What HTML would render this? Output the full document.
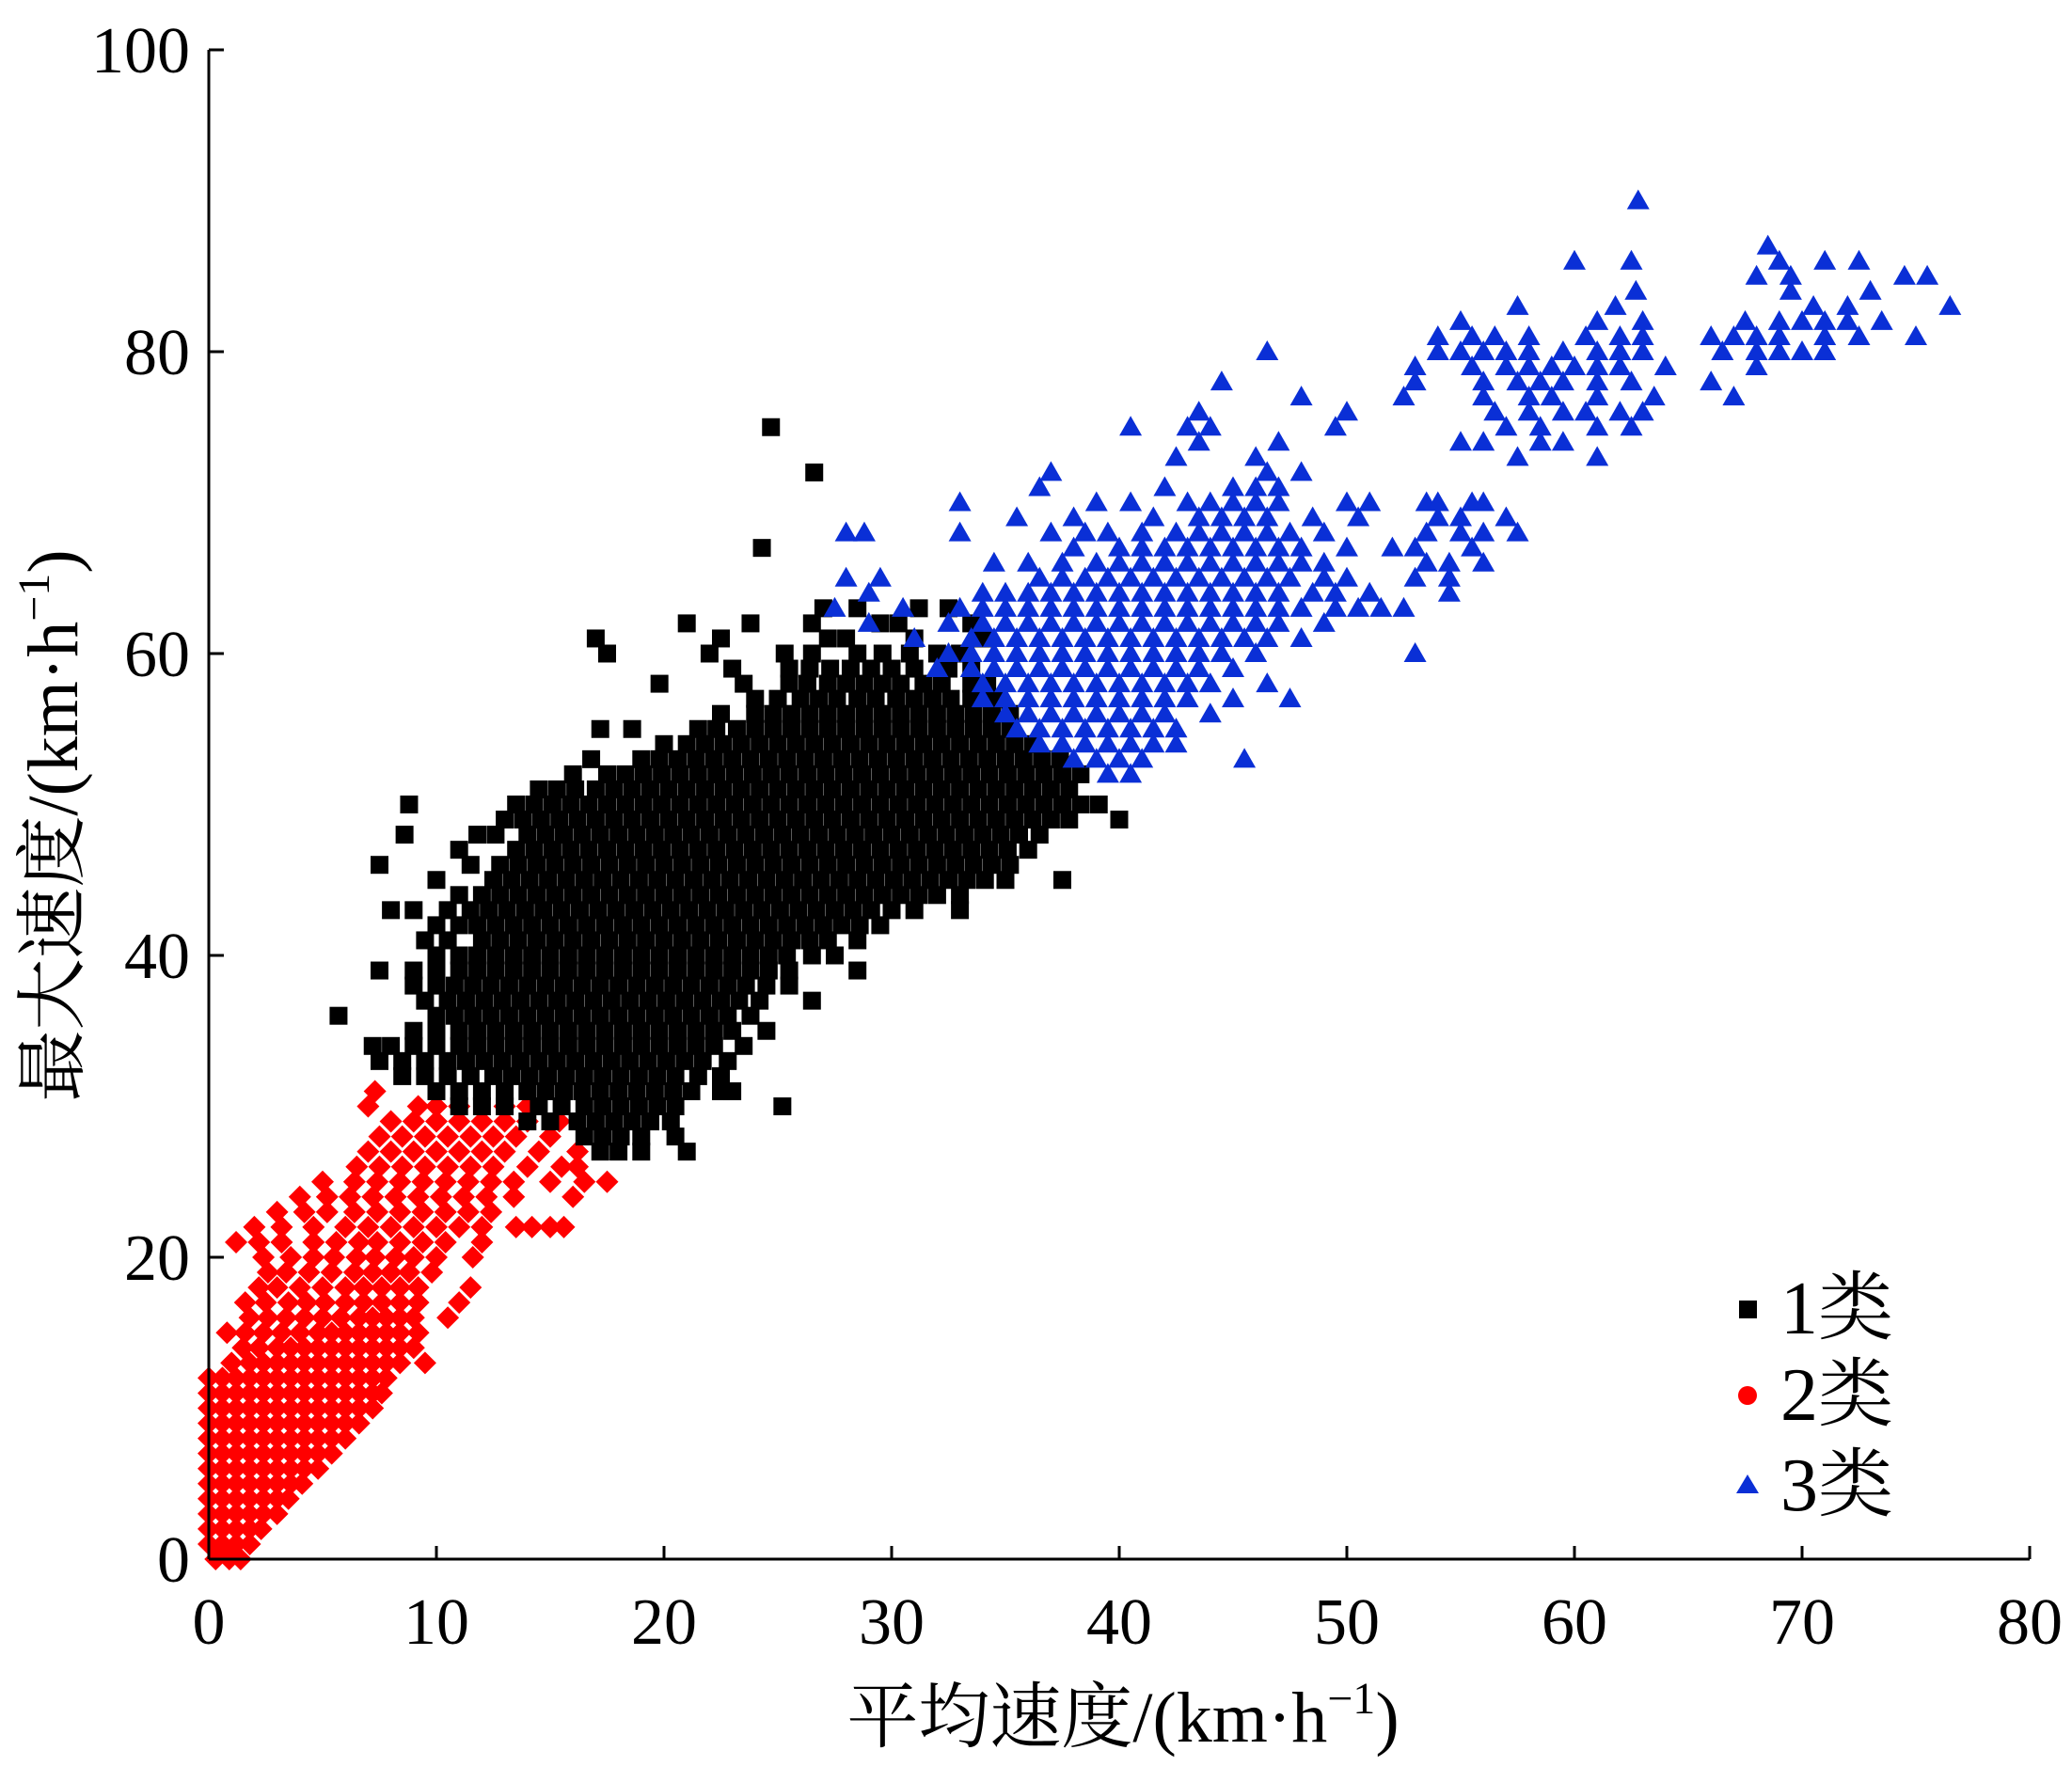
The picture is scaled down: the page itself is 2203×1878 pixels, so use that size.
<!DOCTYPE html>
<html><head><meta charset="utf-8"><style>
html,body{margin:0;padding:0;background:#fff;}
svg{display:block;font-family:"Liberation Serif","Noto Serif CJK SC",serif;}
</style></head><body>
<svg id="chart" width="2203" height="1878" viewBox="0 0 2203 1878" xmlns="http://www.w3.org/2000/svg">
<g id="marks"></g>
<g id="axes"></g>
<text x="1194" y="1852" font-size="76" text-anchor="middle">平均速度/(km·h<tspan font-size="48" dy="-30">−1</tspan><tspan dy="30">)</tspan></text>
<text transform="translate(82,878) rotate(-90)" font-size="76" text-anchor="middle">最大速度/(km·h<tspan font-size="48" dy="-30">−1</tspan><tspan dy="30">)</tspan></text>
<g>
<g><rect x="1849" y="1383" width="19" height="19" fill="#000"/><text x="1893" y="1418" font-size="80">1类</text></g>
<g><circle cx="1858" cy="1484" r="10" fill="#f00"/><text x="1893" y="1510" font-size="80">2类</text></g>
<g><polygon points="1858,1568 1870,1588 1846,1588" fill="#0a2fd6"/><text x="1893" y="1606" font-size="80">3类</text></g>
</g>
</svg>
<script>
const xTicks=[0,10,20,30,40,50,60,70,80];
const yTicks=[0,20,40,60,80,100];
const class2Rows={0:"0.3 0.9 1.4",1:"0 0.6 1.2 1.8",2:"0 0.6 1.2 1.8 2.3",3:"0 0.6 1.2 1.8 2.4 3",4:"0 0.6 1.2 1.8 2.4 3 3.5",5:"0 0.6 1.2 1.8 2.4 3 3.6 4.1",6:"0 0.6 1.2 1.8 2.4 3 3.6 4.2 4.8",7:"0 0.6 1.2 1.8 2.4 3 3.6 4.2 4.8 5.4",8:"0 0.6 1.2 1.8 2.4 3 3.6 4.2 4.8 5.4 6",9:"0 0.6 1.2 1.8 2.4 3 3.6 4.2 4.8 5.4 6 6.6",10:"0 0.6 1.2 1.8 2.4 3 3.6 4.2 4.8 5.4 6 6.6 7.2",11:"0 0.6 1.2 1.8 2.4 3 3.6 4.2 4.8 5.4 6 6.6 7.2 7.6",12:"0 0.6 1.2 1.8 2.4 3 3.6 4.2 4.8 5.4 6 6.6 7.2 7.8",13:"1 1.8 2.4 3 3.6 4.2 4.8 5.4 6 6.6 7.2 7.8 8.4 9.5",14:"1.5 2.2 3 3.6 4.2 4.8 5.4 6 6.6 7.2 7.8 8.4 9",15:"0.8 1.6 2.4 3.2 4 4.8 5.4 6 6.6 7.2 7.8 8.4 9.2",16:"1.8 2.6 3.4 4.2 5 5.8 6.6 7.2 7.8 8.4 9 10.5",17:"1.6 2.5 3.5 4.3 5.1 6 6.8 7.6 8.4 9.2 11",18:"2.2 3 4 5 6 6.8 7.6 8.4 9.2 11.5",19:"2.6 3.4 4.4 5.4 6.4 7.2 8 8.8 9.8",20:"2.4 3.6 4.6 5.5 6.5 7.3 8.2 9 10 11.6",21:"1.2 2.2 3.2 4.6 5.6 6.6 7.4 8.4 9.4 10.4 12",22:"2 3.2 4.6 6 7 8 9 10 11 12 13.5 14.2 15 15.6",23:"3 4.2 5.2 6.4 7.4 8.4 9.4 10.4 11.4 12.4",24:"4 5.2 6.2 7.2 8.2 9.2 10.2 11.2 12.2 13.4 16",25:"5 6.4 7.4 8.4 9.4 10.4 11.4 12.4 13.4 15 16.5 17.5",26:"6.5 7.5 8.5 9.5 10.5 11.5 12.5 14 15.5 16.2",27:"7 8 9 10 11 12 13 14.5 16.2",28:"7.5 8.5 9.5 10.5 11.5 12.5 13.5 15",29:"8 9 10 11 12 13 14 15.4",30:"7 9.2 10 11 13 14",31:"7.3"};
const class1Rows={75:"24.7",72:"26.6",67:"24.3",63:"27 28.5 31.2 32.5",62:"21 23.8 26.5 29.5 30.3 33.5",61:"17 22.5 27.2 28 31 34",60:"17.5 22 25.3 26.5 28.5 29.6 30.8 32 33",59:"23 25.5 26.4 27.3 28.2 29.1 30 31 32.5 33.5",58:"19.8 23.5 25.5 26.3 27.2 28 28.8 29.6 30.4 31.4 32.2 33.5 34.2",57:"24 25 26 26.8 27.6 28.5 29.3 30.2 31 31.8 32.6 33.5 34.5",56:"22.5 24 24.8 25.6 26.4 27.2 28 28.8 29.6 30.4 31.2 32 32.8 33.6 34.4 35.2",55:"17.2 18.6 21.5 22.3 23.2 24 24.8 25.6 26.4 27.2 28 28.8 29.6 30.4 31.2 32 32.8 33.6 34.4 35.2",54:"20 21 21.8 22.6 23.4 24.2 25 25.8 26.6 27.4 28.2 29 29.8 30.6 31.4 32.2 33 33.8 34.6 35.4 36.2",53:"16.8 19 19.8 20.6 21.4 22.2 23 23.8 24.6 25.4 26.2 27 27.8 28.6 29.4 30.2 31 31.8 32.6 33.4 34.2 35 35.8 36.6 37.4",52:"16 17.5 18.3 19.1 19.9 20.7 21.5 22.3 23.1 23.9 24.7 25.5 26.3 27.1 27.9 28.7 29.5 30.3 31.1 31.9 32.7 33.5 34.3 35.1 35.9 36.7 37.5 38.3",51:"14.5 15.3 16.1 17 17.8 18.6 19.4 20.2 21 21.8 22.6 23.4 24.2 25 25.8 26.6 27.4 28.2 29 29.8 30.6 31.4 32.2 33 33.8 34.6 35.4 36.2 37 37.8",50:"8.8 13.5 14.3 15.1 15.9 16.7 17.5 18.3 19.1 19.9 20.7 21.5 22.3 23.1 23.9 24.7 25.5 26.3 27.1 27.9 28.7 29.5 30.3 31.1 31.9 32.7 33.5 34.3 35.1 35.9 36.7 37.5 38.3 39.1",49:"13 13.8 14.6 15.4 16.2 17 17.8 18.6 19.4 20.2 21 21.8 22.6 23.4 24.2 25 25.8 26.6 27.4 28.2 29 29.8 30.6 31.4 32.2 33 33.8 34.6 35.4 36.2 37 37.8 40",48:"8.6 11.8 12.6 14 14.8 15.6 16.4 17.2 18 18.8 19.6 20.4 21.2 22 22.8 23.6 24.4 25.2 26 26.8 27.6 28.4 29.2 30 30.8 31.6 32.4 33.2 34 34.8 35.6 36.5",47:"11 13.5 14.3 15.1 15.9 16.7 17.5 18.3 19.1 19.9 20.7 21.5 22.3 23.1 23.9 24.7 25.5 26.3 27.1 27.9 28.7 29.5 30.3 31.1 31.9 32.7 33.5 34.3 35.1 36",46:"7.5 11.5 12.8 13.6 14.4 15.2 16 16.8 17.6 18.4 19.2 20 20.8 21.6 22.4 23.2 24 24.8 25.6 26.4 27.2 28 28.8 29.6 30.4 31.2 32 32.8 33.6 34.4 35.2",45:"10 12.5 13.3 14.1 14.9 15.7 16.5 17.3 18.1 18.9 19.7 20.5 21.3 22.1 22.9 23.7 24.5 25.3 26.1 26.9 27.7 28.5 29.3 30.1 30.9 31.7 32.5 33.3 34.1 35 37.5",44:"11 12 12.8 13.6 14.4 15.2 16 16.8 17.6 18.4 19.2 20 20.8 21.6 22.4 23.2 24 24.8 25.6 26.4 27.2 28 28.8 29.6 30.4 31.2 32 33",43:"8 9 10.5 11.5 12.3 13.1 13.9 14.7 15.5 16.3 17.1 17.9 18.7 19.5 20.3 21.1 21.9 22.7 23.5 24.3 25.1 25.9 26.7 27.5 28.3 29.1 30 31 33",42:"10 11 11.8 12.6 13.4 14.2 15 15.8 16.6 17.4 18.2 19 19.8 20.6 21.4 22.2 23 23.8 24.6 25.4 26.2 27 27.8 28.6 29.5",41:"9.5 10.5 12 12.8 13.6 14.4 15.2 16 16.8 17.6 18.4 19.2 20 20.8 21.6 22.4 23.2 24 24.8 25.6 26.4 27.2 28.5",40:"10 11 11.8 12.6 13.4 14.2 15 15.8 16.6 17.4 18.2 19 19.8 20.6 21.4 22.2 23 23.8 24.6 25.4 26.5 27.5",39:"7.5 9 10 11 11.8 12.6 13.4 14.2 15 15.8 16.6 17.4 18.2 19 19.8 20.6 21.4 22.2 23 23.8 24.6 25.5 28.5",38:"9 10 10.8 11.6 12.4 13.2 14 14.8 15.6 16.4 17.2 18 18.8 19.6 20.4 21.2 22 22.8 23.6 24.5 25.5",37:"9.5 10.5 11.3 12.1 12.9 13.7 14.5 15.3 16.1 16.9 17.7 18.5 19.3 20.1 20.9 21.7 22.5 23.3 24.2 26.5",36:"5.7 10 10.8 11.6 12.4 13.2 14 14.8 15.6 16.4 17.2 18 18.8 19.6 20.4 21.2 22 22.8 23.8",35:"9 10 11 11.8 12.6 13.4 14.2 15 15.8 16.6 17.4 18.2 19 19.8 20.6 21.4 22.2 23 24.5",34:"7.2 8 9 10 11 11.8 12.6 13.4 14.2 15 15.8 16.6 17.4 18.2 19 19.8 20.6 21.4 22.2 23.5",33:"7.5 8.5 9.5 10.5 11.3 12.1 12.9 13.7 14.5 15.3 16.1 16.9 17.7 18.5 19.3 20.1 20.9 21.7 22.8",32:"8.5 9.5 10.5 11.5 12.5 13.3 14.1 14.9 15.7 16.5 17.3 18.1 18.9 19.7 20.5 21.5 22.5",31:"10 11 12 13 14 14.8 15.6 16.4 17.2 18 18.8 19.6 20.4 21.2 22.5 23",30:"11 12 13 14.5 15.5 16.5 17.3 18.1 18.9 19.7 20.5 25.2",29:"14 15 16.2 17 17.8 18.6 19.4 20.3",28:"16.5 17.3 18.1 19 20.5",27:"17.2 18 19 21"};
const class3Rows={90:"62.8",87:"68.5",86:"60 62.5 69 71 72.5",85:"68 69.5 74.5 75.5",84:"62.7 69.5 73",83:"57.5 61.8 70.5 72 76.5",82:"55 61 63 67.5 69 70 71 72 73.5",81:"54 55.5 56.5 58 60.5 62 63 66 67 68 69 71 72.5 75",80:"46.5 54 55 56 57 58 59.5 61 62 63 66.5 68 69 70 71",79:"53 55.5 57 58 59 60 61 62 64 68",78:"44.5 53 56 57.5 58.5 59.5 61 62.5 66",77:"48 52.5 56 58 59 61 63.5 67",76:"43.5 50 56.5 58 59.5 60.5 62 63",75:"40.5 43 44 49.5 57 58.5 61 62.5",74:"43.5 47 55 56 58.5 59.5",73:"42.5 46 57.5 61",72:"37 46.5 48",71:"36.5 42 45 46 47",70:"33 39 40.5 43 44 45 46 47 50 51 53.5 54 55.5 56",69:"35.5 38 41.5 43.5 44.5 45.5 46.5 48.5 50.5 54 55 57",68:"28 28.8 33 37 38.5 39.5 41 42.5 43.5 44.5 45.5 46.5 47.5 49 53.5 55 56 57.5",67:"38 40 41 42 43 44 45 46 47 48 50 52 53 55.5",66:"34.5 36 37.5 39 40 41 42 43 44 45 46 47 48 49 53.5 54.5 56",65:"28 29.5 36.5 37.5 38.5 39.5 40.5 41.5 42.5 43.5 44.5 45.5 46.5 47.5 49 50 53 54.5",64:"29 34 35 36 37 38 39 40 41 42 43 44 45 46 47 48.5 49.5 51 54.5",63:"27.5 30.5 33 34 35 36 37 38 39 40 41 42 43 44 45 46 47 48 49.5 50.5 51.5 52.5",62:"29 32.5 34 35 36 37 38 39 40 41 42 43 44 45 46 47 49",61:"31 33.5 34.5 35.5 36.5 37.5 38.5 39.5 40.5 41.5 42.5 43.5 44.5 45.5 46.5 48",60:"32.5 33.5 34.5 35.5 36.5 37.5 38.5 39.5 40.5 41.5 42.5 43.5 44.5 46 53",59:"32 33.5 34.5 35.5 36.5 37.5 38.5 39.5 40.5 41.5 42.5 43.5 45",58:"34 35 36 37 38 39 40 41 42 43 44 46.5",57:"34 35 36 37 38 39 40 41 42 43 45 47.5",56:"35 36 37 38 39 40 41 42 44",55:"35.5 36.5 37.5 38.5 39.5 40.5 41.5 42.5",54:"36.5 37.5 38.5 39.5 40.5 41.5 42.5",53:"38 39 40 41 45.5",52:"39.5 40.5"};

const NS="http://www.w3.org/2000/svg";
const X0=222,X1=2158,Y0=1658,Y1=53;
function sx(v){return X0+(v-0)/(80-0)*(X1-X0);}
function sy(v){return Y0-(v-0)/(100-0)*(Y0-Y1);}
function mk(tag,attrs,parent){const e=document.createElementNS(NS,tag);for(const k in attrs)e.setAttribute(k,attrs[k]);parent.appendChild(e);return e;}
const marks=document.getElementById('marks');
function pts(rows){const out=[];for(const y in rows){rows[y].split(' ').forEach(s=>out.push([parseFloat(s),parseFloat(y)]));}return out;}

const g2=mk('g',{},marks);


pts(class2Rows).forEach(p=>{const cx=sx(p[0]),cy=sy(p[1]);
 const e=mk('polygon',{points:`${cx},${cy-12} ${cx+12},${cy} ${cx},${cy+12} ${cx-12},${cy}`,fill:'#f00'},g2);
 
 });

const g1=mk('g',{},marks);


pts(class1Rows).forEach(p=>{const cx=sx(p[0]),cy=sy(p[1]);
 const e=mk('rect',{x:cx-9.5,y:cy-9.5,width:19,height:19,fill:'#000'},g1);
 
 });

const g3=mk('g',{},marks);


pts(class3Rows).forEach(p=>{const cx=sx(p[0]),cy=sy(p[1]);
 const e=mk('polygon',{points:`${cx},${cy-12} ${cx+12},${cy+9} ${cx-12},${cy+9}`,fill:'#0a2fd6'},g3);
 
 });

const axes=document.getElementById('axes');
const xa=mk('line',{x1:X0,y1:Y0,x2:X1,y2:Y0,stroke:'#000','stroke-width':3},axes);


const ya=mk('line',{x1:X0,y1:Y0,x2:X0,y2:Y1,stroke:'#000','stroke-width':3},axes);


xTicks.forEach(v=>{
 const t=mk('line',{x1:sx(v),y1:Y0,x2:sx(v),y2:Y0-14,stroke:'#000','stroke-width':3},axes);
 
 
 const l=mk('text',{x:sx(v),y:Y0+90,'font-size':70,'text-anchor':'middle'},axes);
 l.textContent=v;
 
 
});
yTicks.forEach(v=>{
 const t=mk('line',{x1:X0,y1:sy(v),x2:X0+16,y2:sy(v),stroke:'#000','stroke-width':3},axes);
 
 
 const l=mk('text',{x:X0-20,y:sy(v)+24,'font-size':70,'text-anchor':'end'},axes);
 l.textContent=v;
 
 
});
</script>
</body></html>
